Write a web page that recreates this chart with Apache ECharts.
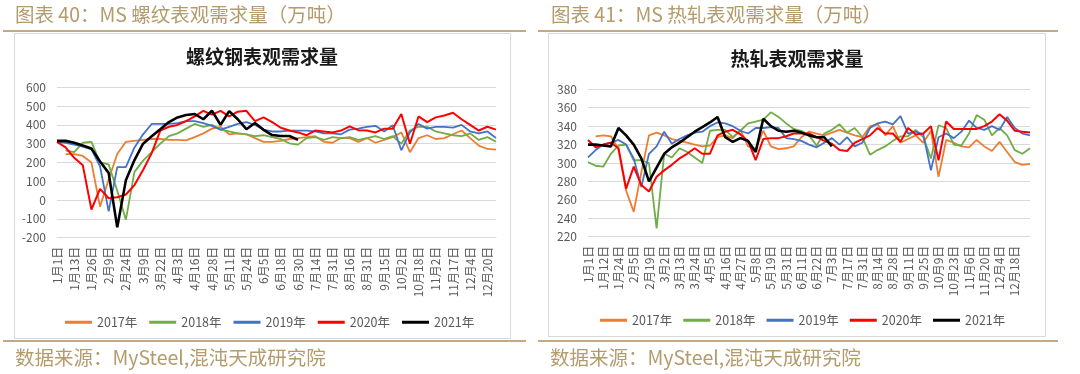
<!DOCTYPE html>
<html><head><meta charset="utf-8">
<script src="https://cdn.jsdelivr.net/npm/echarts@6/dist/echarts.min.js"></script>
<style>html,body{margin:0;padding:0;background:#fff;}#c{width:1080px;height:374px;}</style>
</head><body><div id="c"></div>
<script>
var rebarCats = ['1月1日','1月7日','1月13日','1月19日','1月26日','2月2日','2月9日','2月16日','2月24日','3月2日','3月9日','3月15日','3月22日','3月28日','4月3日','4月10日','4月16日','4月22日','4月28日','5月5日','5月11日','5月17日','5月24日','5月30日','6月5日','6月12日','6月18日','6月24日','6月30日','7月7日','7月14日','7月22日','7月31日','8月8日','8月16日','8月23日','8月31日','9月7日','9月15日','9月22日','10月2日','10月10日','10月18日','10月25日','11月2日','11月9日','11月17日','11月24日','12月4日','12月11日','12月20日','12月27日'];
var rebar2017 = [null,245,245,235,200,-35,110,245,310,315,320,325,325,320,320,318,335,355,380,390,350,355,350,330,310,310,315,325,330,335,340,310,305,330,330,310,330,305,320,335,360,255,330,345,325,330,350,370,330,290,272,268];
var rebar2018 = [null,265,255,305,310,200,190,50,-105,150,210,255,300,340,355,380,405,390,400,375,365,355,350,340,345,335,325,302,295,330,335,320,335,330,335,320,330,340,325,340,300,370,390,390,365,355,345,340,355,320,335,310];
var rebar2019 = [310,305,295,285,270,180,-60,175,175,280,350,405,405,405,410,420,420,410,395,375,390,405,415,400,375,365,365,370,370,370,365,355,355,350,375,380,390,395,365,398,265,360,405,380,390,390,385,400,365,355,365,330];
var rebar2020 = [310,280,225,185,-50,60,10,15,30,80,160,250,370,390,400,420,445,475,455,475,445,470,475,420,440,415,385,370,360,345,370,365,360,370,392,372,370,360,380,380,458,300,445,415,440,450,465,430,400,370,390,375];
var rebar2021 = [315,315,305,290,275,205,145,-145,105,213,300,340,377,415,440,453,458,430,475,400,473,430,377,410,374,346,341,341,320];

var hrcCats = ['1月1日','1月6日','1月12日','1月18日','1月24日','1月30日','2月5日','2月12日','2月19日','2月25日','3月2日','3月7日','3月13日','3月18日','3月24日','3月30日','4月5日','4月10日','4月16日','4月21日','4月27日','5月2日','5月8日','5月13日','5月19日','5月25日','5月31日','6月5日','6月11日','6月16日','6月22日','6月27日','7月3日','7月10日','7月17日','7月24日','7月31日','8月7日','8月14日','8月21日','8月28日','9月4日','9月11日','9月18日','9月25日','10月2日','10月9日','10月16日','10月23日','10月30日','11月6日','11月13日','11月20日','11月27日','12月4日','12月11日','12月18日','12月25日','12月31日'];
var hrc2017 = [null,329,330,329,315,270,247,290,330,333,330,326,324,322,320,318,319,328,330,327,336,318,315,335,318,315,316,318,328,334,332,330,333,336,333,330,328,340,342,330,340,322,326,330,322,335,285,325,322,318,317,325,318,313,323,312,301,298,299];
var hrc2018 = [301,297,296,310,319,320,303,303,300,229,310,306,316,312,306,300,335,336,336,328,335,343,345,347,355,350,343,337,335,330,319,332,336,342,333,338,328,309,314,318,324,329,329,336,328,305,341,338,320,319,332,352,347,330,338,330,314,310,316];
var hrc2019 = [306,314,320,322,325,320,305,274,310,318,334,321,326,330,333,334,340,344,343,340,335,332,338,338,339,338,327,326,324,320,317,322,327,320,328,318,322,338,343,345,342,351,332,334,331,292,328,332,327,334,346,338,336,340,336,350,338,332,330];
var hrc2020 = [325,317,320,322,316,272,296,276,269,285,292,298,305,310,316,310,310,330,334,336,331,324,303,326,327,327,329,332,332,332,328,324,321,314,313,322,326,330,338,332,332,323,338,331,332,340,303,345,337,337,337,337,340,345,353,346,335,334,333];
var hrc2021 = [320,320,319,318,338,330,320,305,280,295,310,317,322,328,334,339,344,350,328,323,327,324,312,348,340,335,334,335,333,330,328,328,318];

var seriesNames = ['2017年','2018年','2019年','2020年','2021年'];
var rebarTicks = [-200, 600, 100];
var hrcTicks = [220, 380, 20];

var colors = ['#ED7D31','#70AD47','#4472C4','#FF0000','#000000'];
var widths = [1.8,1.8,1.8,2,2.6];
var FONT = 'Noto Sans CJK SC';
var GOLD = '#b39b6c', LINE = '#ad8f5c';

function xAxis(idx, cats){
  return {type:'category', gridIndex:idx, data:cats, boundaryGap:false,
    axisTick:{show:false}, axisLine:{onZero:false, lineStyle:{color:'#d9d9d9'}},
    axisLabel:{interval:function(i){ return i % 2 === 0 && i <= 56; }, rotate:90, fontSize:12, color:'#595959', margin:9, fontFamily:FONT}};
}
function yAxis(idx, t){
  return {type:'value', gridIndex:idx, min:t[0], max:t[1], interval:t[2],
    axisLine:{show:false}, axisTick:{show:false},
    splitLine:{lineStyle:{color:'#d9d9d9', width:1}},
    axisLabel:{fontSize:12, color:'#595959', margin:11, fontFamily:FONT}};
}
var series = [];
[[rebar2017,rebar2018,rebar2019,rebar2020,rebar2021],[hrc2017,hrc2018,hrc2019,hrc2020,hrc2021]].forEach(function(set, gi){
  set.forEach(function(d, k){
    series.push({name:seriesNames[k], type:'line', xAxisIndex:gi, yAxisIndex:gi, data:d,
      symbol:'none', lineStyle:{color:colors[k], width:widths[k]}, itemStyle:{color:colors[k]},
      z: 2 + k, animation:false});
  });
});
function legend(left, top, gap){
  return {left:left, top:top, itemWidth:27, itemHeight:3, itemGap:gap, icon:'rect',
    data:seriesNames, textStyle:{fontSize:12.5, color:'#595959', fontFamily:FONT}};
}
function txt(x,y,s,opt){
  return {type:'text', x:x, y:y, style:Object.assign({text:s, font:'19.5px "'+FONT+'"', fill:GOLD, verticalAlign:'middle', align:'left'}, opt||{})};
}
function hline(x1,x2,y){
  return {type:'line', shape:{x1:x1,y1:y,x2:x2,y2:y}, style:{stroke:LINE, lineWidth:1.5}};
}
var chart = echarts.init(document.getElementById('c'), null, {renderer:'canvas'});
chart.setOption({
  backgroundColor:'#ffffff',
  animation:false,
  color:colors,
  grid:[{left:57, top:87.3, width:439, height:150.4}, {left:588, top:89.3, width:442, height:147.4}],
  xAxis:[xAxis(0, rebarCats), xAxis(1, hrcCats)],
  yAxis:[yAxis(0, rebarTicks), yAxis(1, hrcTicks)],
  legend:[legend(60, 311, 12), legend(595, 309, 11)],
  series:series,
  graphic:[
    txt(15, 15, '图表 40：MS 螺纹表观需求量（万吨）'),
    hline(3, 526, 31),
    {type:'rect', shape:{x:14.5, y:33.5, width:496, height:305}, style:{fill:'none', stroke:'#d9d9d9', lineWidth:1}, z:-1},
    hline(3, 526, 341),
    txt(15, 358, '数据来源：MySteel,混沌天成研究院'),
    txt(262, 57, '螺纹钢表观需求量', {font:'bold 19px "'+FONT+'"', fill:'#1a1a1a', align:'center'}),

    txt(551, 15, '图表 41：MS 热轧表观需求量（万吨）'),
    hline(538, 1058, 31),
    {type:'rect', shape:{x:548.5, y:33.5, width:497, height:303}, style:{fill:'none', stroke:'#d9d9d9', lineWidth:1}, z:-1},
    hline(538, 1058, 341),
    txt(550, 358, '数据来源：MySteel,混沌天成研究院'),
    txt(797, 59, '热轧表观需求量', {font:'bold 19px "'+FONT+'"', fill:'#1a1a1a', align:'center'})
  ]
});
</script></body></html>
